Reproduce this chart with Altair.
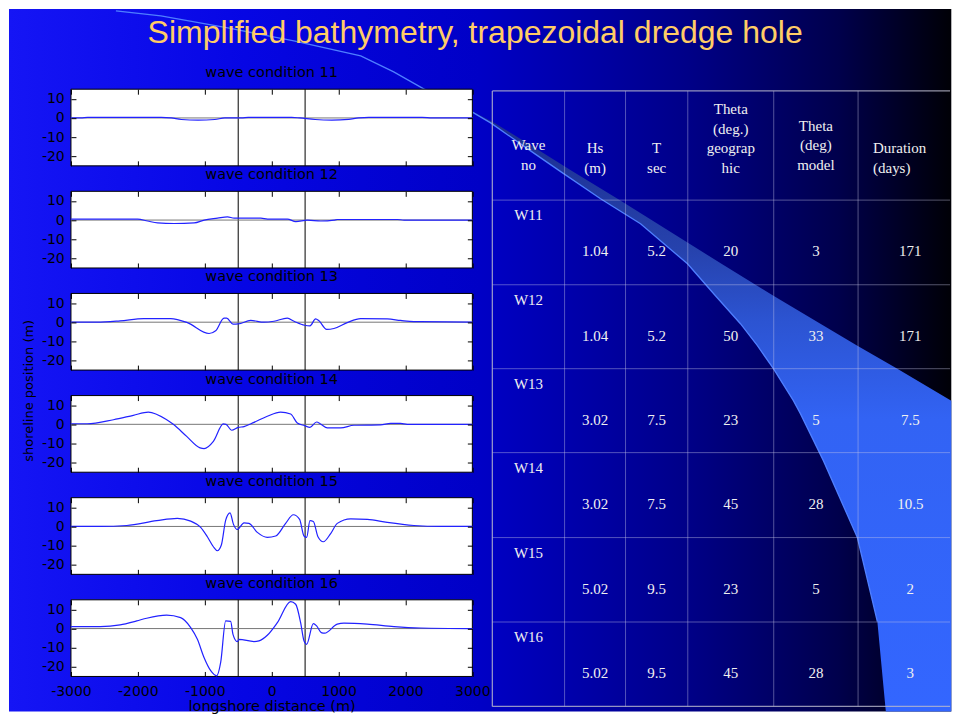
import altair as alt
import pandas as pd

# ---------------- shoreline change curves (longshore distance m -> shoreline position m) ----------------
X11 = [-3000, -2850, -2750, -1650, -1500, -1350, -1100, -850, -700, -450, -350, 300, 420, 650, 900, 1150, 1300, 1450, 2250, 2400, 3000]
Y11 = [0, 0, 0.3, 0.3, 0, -0.8, -1.1, -0.8, 0, 0, 0.3, 0.3, 0, -0.8, -1.1, -0.7, 0, 0.3, 0.3, 0, 0]

X12 = [-3000, -2004, -1855, -1705, -1456, -1158, -1008, -809, -660, -560, -162, -62, 236, 361, 535, 734, 933, 983, 1879, 1979, 3000]
Y12 = [0.5, 0.5, -0.5, -1.5, -1.8, -1.5, 0, 1, 1.7, 1, 1, 0.5, 0.5, -0.8, 0, -0.5, 0, 0.3, 0.3, 0, 0]

X13 = [-3000, -2610, -2265, -1910, -1510, -1260, -936, -837, -712, -672, -578, -500, -314, -115, 35, 234, 334, 493, 573, 657, 707, 822, 931, 1130, 1330, 1728, 1927, 2126, 2624, 3000]
Y13 = [0, 0, 0.7, 1.9, 1.9, -0.2, -5.9, -4.5, 2.1, 2.1, -1, -0.9, 0.9, 0, 0.5, 2.1, 0.5, -1.6, -1.9, 1.7, 0.7, -3.8, -3.3, -0.2, 1.9, 1.7, 0.9, 0.3, 0.2, 0]

X14 = [-3000, -2760, -2365, -2067, -1843, -1569, -1470, -1270, -1070, -1010, -871, -722, -682, -598, -500, -413, -264, -65, 134, 284, 383, 493, 573, 672, 732, 832, 1031, 1230, 1628, 1778, 1927, 2027, 3000]
Y14 = [0.3, 0.3, 2.4, 4.7, 6.4, 2.4, 0, -6.3, -12.3, -12.7, -8.9, 0.2, 0, -3.1, -1.6, -1.2, 1, 4.2, 6.4, 5.4, 0.7, -0.7, -1.6, 1.2, 0.2, -1.9, -1.9, -0.5, -0.3, 0.5, 0.5, 0, 0]

X15 = [-3000, -2560, -2166, -1718, -1410, -1210, -1061, -961, -871, -812, -752, -687, -622, -572, -513, -413, -339, -214, -65, 60, 209, 324, 418, 483, 523, 573, 623, 692, 772, 882, 981, 1181, 1430, 1728, 2126, 2525, 3000]
Y15 = [0, 0, 0.5, 3, 4.2, 2.8, -0.5, -5.4, -10.6, -12.7, -9.7, 3.3, 7.1, 1.2, -1.6, 1.9, 1.6, -3.1, -5.7, -5, 1.6, 6.1, 3.7, -5, -5.7, 3, 2.6, -5.4, -8, -3.7, 1.6, 4, 3.7, 2.1, 0.5, 0, 0]

X16 = [-3000, -2560, -2265, -2016, -1868, -1569, -1360, -1210, -1110, -1011, -911, -822, -762, -687, -613, -578, -513, -488, -264, -189, -65, 85, 284, 359, 433, 483, 523, 623, 672, 742, 792, 981, 1081, 1430, 1828, 2226, 3000]
Y16 = [1, 1, 1.9, 4, 5.4, 7, 5.7, 0.5, -5.6, -15.1, -22, -24.7, -17.7, 4, 3.8, -3, -6.8, -5.6, -6.8, -6.4, -3.5, 3.1, 14.1, 12.7, 3.1, -6.4, -8.2, 2.6, 1.4, -2.1, -2.4, 2.3, 2.8, 2.3, 1, 0.3, 0]

CURVES = [
    ("wave condition 11", X11, Y11),
    ("wave condition 12", X12, Y12),
    ("wave condition 13", X13, Y13),
    ("wave condition 14", X14, Y14),
    ("wave condition 15", X15, Y15),
    ("wave condition 16", X16, Y16),
]
HOLE_EDGES = [-500, 500]
X_TICKS = [-3000, -2000, -1000, 0, 1000, 2000, 3000]
Y_TICKS = [-20, -10, 0, 10]

# ---------------- wave condition table ----------------
TABLE_HEADERS = ["Wave\nno", "Hs\n(m)", "T\nsec", "Theta\n(deg.)\ngeograp\nhic", "Theta\n(deg)\nmodel", "Duration\n(days)"]
WAVE_NO = ["W11", "W12", "W13", "W14", "W15", "W16"]
HS = ["1.04", "1.04", "3.02", "3.02", "5.02", "5.02"]
T_SEC = ["5.2", "5.2", "7.5", "7.5", "9.5", "9.5"]
THETA_GEO = ["20", "50", "23", "45", "23", "45"]
THETA_MODEL = ["3", "33", "5", "28", "5", "28"]
DURATION = ["171", "171", "7.5", "10.5", "2", "3"]

SLIDE_TITLE = "Simplified bathymetry, trapezoidal dredge hole"

# ---------------- slide design outline (screen pixels of the slide) ----------------
SWOOSH_Y = [102, 110, 122, 150, 170, 198, 223, 263, 295, 323, 345, 368, 400, 413, 460, 537, 621, 706, 711]
SWOOSH_XL = [455, 470, 490, 530, 559, 600, 640, 687, 715, 740, 757, 773, 793, 800, 823, 857, 877, 885, 885.5]
SWOOSH_XR = [455, 471, 494, 539, 571, 617, 657, 721, 773, 820, 857, 897, 951, 951, 951, 951, 951, 951, 951]
ARC_X = [115, 160, 227, 293, 360, 393, 423, 455, 473]
ARC_Y = [10, 15, 27, 40, 55, 71, 88, 102, 112]

# ---------------- layout ----------------
PW, PH, GAP = 401.7, 76.7, 25.2
FONT = "DejaVu Sans"
SERIF = "Liberation Serif"

xs = alt.Scale(domain=[-3000, 3000], nice=False, zero=False)
ys = alt.Scale(domain=[-25, 15], nice=False, zero=False)

# slide-pixel scales for the decoration (panel 1 origin sits at slide x=70, y=88.3)
sx = alt.Scale(domain=[0, 960], range=[-70, 890], nice=False, zero=False)
sy = alt.Scale(domain=[0, 723], range=[-88.3, 634.7], nice=False, zero=False)

# table scales: column / row index -> pixel edges (relative to panel 1 origin)
COL_EDGES = [421.7, 494.0, 555.0, 617.3, 703.3, 787.7, 892.3]
ROW_EDGES = [1.7, 111.0, 195.7, 279.7, 363.7, 448.7, 533.2, 617.7]
tcx = alt.Scale(domain=list(range(7)), range=COL_EDGES, nice=False, zero=False)
tcy = alt.Scale(domain=list(range(8)), range=ROW_EDGES, nice=False, zero=False)
TABLE_RIGHT = 5.88
HEADER_FIRST_LINE = [0.497, 0.524, 0.524, 0.167, 0.32, 0.524]   # row-units of each header's first line
HEADER_X = [0.5, 1.5, 2.5, 3.5, 4.5, 5.143]


def axis(orient, labels=False, extra=None):
    kw = dict(orient=orient,
              values=X_TICKS if orient in ("top", "bottom") else Y_TICKS,
              offset=-5, tickSize=5, tickColor="black", tickWidth=1,
              domain=False, grid=False, labels=labels,
              labelFont=FONT, labelFontSize=14, labelColor="black",
              labelFlush=False, labelOverlap=False, zindex=2,
              labelExpr="'' + datum.value")
    if orient == "left":
        kw["labelPadding"] = 6.7
    if orient == "bottom":
        kw["labelPadding"] = 8
    if extra:
        kw.update(extra)
    return alt.Axis(**kw)


def panel_layer(i, xv, yv):
    last = i == len(CURVES) - 1
    xkw, ykw = {}, {}
    bextra, lextra = None, None
    if last:
        xkw["title"] = "longshore distance (m)"
        bextra = dict(titleFont=FONT, titleFontSize=14.5, titleFontWeight="normal",
                      titleColor="black", titleY=35, titleBaseline="middle")
    else:
        xkw["title"] = None
    if i == 2:
        ykw["title"] = "shoreline position (m)"
        lextra = dict(titleFont=FONT, titleFontSize=13, titleFontWeight="normal",
                      titleColor="black", titleX=-47, titleY=96.9, titleAngle=270,
                      titleAlign="center", titleBaseline="middle")
    else:
        ykw["title"] = None

    frame = alt.Chart(pd.DataFrame({"x": [-3000], "x2": [3000], "y": [-25], "y2": [15]})).mark_rect(
        fill="white", stroke="black", strokeWidth=1
    ).encode(
        x=alt.X("x:Q", scale=xs, axis=axis("bottom", labels=last, extra=bextra), **xkw),
        x2="x2:Q",
        y=alt.Y("y:Q", scale=ys, axis=axis("left", labels=True, extra=lextra), **ykw),
        y2="y2:Q",
    )
    edges = alt.Chart(pd.DataFrame({"x": HOLE_EDGES, "y": [-25, -25], "y2": [15, 15]})).mark_rule(
        color="black", strokeWidth=1
    ).encode(
        x=alt.X("x:Q", scale=xs, axis=None),
        y=alt.Y("y:Q", scale=ys, axis=None),
        y2="y2:Q",
    )
    zero = alt.Chart(pd.DataFrame({"x": [-3000], "x2": [3000], "y": [0]})).mark_rule(
        color="#767676", strokeWidth=1
    ).encode(
        x=alt.X("x:Q", scale=xs, axis=axis("top"), title=None),
        x2="x2:Q",
        y=alt.Y("y:Q", scale=ys, axis=axis("right"), title=None),
    )
    curve = alt.Chart(pd.DataFrame({"x": xv, "y": yv})).mark_line(
        color="#2222ff", strokeWidth=1.2, interpolate="monotone"
    ).encode(
        x=alt.X("x:Q", scale=xs, axis=None),
        y=alt.Y("y:Q", scale=ys, axis=None),
    )
    return alt.layer(frame, edges, zero, curve).resolve_axis(x="independent", y="independent")


def title_params(text):
    return alt.TitleParams(text=text, font=FONT, fontSize=14.5, fontWeight="normal",
                           color="black", offset=8, anchor="middle", frame="group")


# ---------------- decoration (background gradient, swoosh, arc, slide title) ----------------
BG_GRADIENT = alt.LinearGradient(
    gradient="linear", x1=0, y1=0, x2=1, y2=0,
    stops=[alt.GradientStop(offset=0.0, color="#1515f5"),
           alt.GradientStop(offset=0.25, color="#0606e4"),
           alt.GradientStop(offset=0.5, color="#0000c6"),
           alt.GradientStop(offset=0.72, color="#000088"),
           alt.GradientStop(offset=0.88, color="#00004c"),
           alt.GradientStop(offset=1.0, color="#000006")])
SW_GRADIENT = alt.LinearGradient(
    gradient="linear", x1=0, y1=0, x2=0, y2=1,
    stops=[alt.GradientStop(offset=0.0, color="#1a2b8c"),
           alt.GradientStop(offset=0.24, color="#2642ad"),
           alt.GradientStop(offset=0.36, color="#2c54d2"),
           alt.GradientStop(offset=0.52, color="#3263f4"),
           alt.GradientStop(offset=1.0, color="#3366ff")])

bg = alt.Chart(pd.DataFrame({"x": [8], "x2": [951], "y": [8], "y2": [711]})).mark_rect(
    fill=BG_GRADIENT
).encode(
    x=alt.X("x:Q", scale=sx, axis=None), x2="x2:Q",
    y=alt.Y("y:Q", scale=sy, axis=None), y2="y2:Q",
)
swoosh = alt.Chart(pd.DataFrame({"y": SWOOSH_Y, "xl": SWOOSH_XL, "xr": SWOOSH_XR})).mark_area(
    orient="horizontal", fill=SW_GRADIENT
).encode(
    y=alt.Y("y:Q", scale=sy, axis=None),
    x=alt.X("xl:Q", scale=sx, axis=None), x2="xr:Q",
)
arc_x = ARC_X + [x for x, y in zip(SWOOSH_XL, SWOOSH_Y) if y > ARC_Y[-1] and y < 705]
arc_y = ARC_Y + [y for y in SWOOSH_Y if y > ARC_Y[-1] and y < 705]
arc = alt.Chart(pd.DataFrame({"x": arc_x, "y": arc_y, "o": list(range(len(arc_x)))})).mark_line(
    color="#4f7fff", strokeWidth=1.3
).encode(
    x=alt.X("x:Q", scale=sx, axis=None),
    y=alt.Y("y:Q", scale=sy, axis=None),
    order="o:Q",
)
slide_title = alt.Chart(pd.DataFrame({"x": [474.5], "y": [41.7], "t": [SLIDE_TITLE]})).mark_text(
    font="Liberation Sans", fontSize=32, color="#ffcc66", align="center", baseline="alphabetic"
).encode(
    x=alt.X("x:Q", scale=sx, axis=None),
    y=alt.Y("y:Q", scale=sy, axis=None),
    text="t:N",
)
# title of the first panel (drawn here because the panel group also holds the slide background)
first_title = alt.Chart(pd.DataFrame({"x": [270.85], "y": [76.0], "t": [CURVES[0][0]]})).mark_text(
    font=FONT, fontSize=14.5, color="black", align="center", baseline="alphabetic"
).encode(
    x=alt.X("x:Q", scale=sx, axis=None),
    y=alt.Y("y:Q", scale=sy, axis=None),
    text="t:N",
)
deco = alt.layer(bg, swoosh, arc, slide_title, first_title)

# ---------------- table ----------------
inner_h = alt.Chart(pd.DataFrame({"r": list(range(1, 7)), "c0": [0] * 6, "c1": [TABLE_RIGHT] * 6})).mark_rule(
    color="#c8c8e6", strokeOpacity=0.42, strokeWidth=1
).encode(
    y=alt.Y("r:Q", scale=tcy, axis=None),
    x=alt.X("c0:Q", scale=tcx, axis=None), x2="c1:Q",
)
inner_v = alt.Chart(pd.DataFrame({"c": list(range(1, 6)), "r0": [0] * 5, "r1": [7] * 5})).mark_rule(
    color="#c8c8e6", strokeOpacity=0.42, strokeWidth=1
).encode(
    x=alt.X("c:Q", scale=tcx, axis=None),
    y=alt.Y("r0:Q", scale=tcy, axis=None), y2="r1:Q",
)
outer_h = alt.Chart(pd.DataFrame({"r": [0, 7], "c0": [0, 0], "c1": [TABLE_RIGHT, TABLE_RIGHT]})).mark_rule(
    color="#b8b8cc", strokeOpacity=0.8, strokeWidth=1.3
).encode(
    y=alt.Y("r:Q", scale=tcy, axis=None),
    x=alt.X("c0:Q", scale=tcx, axis=None), x2="c1:Q",
)
outer_v = alt.Chart(pd.DataFrame({"c": [0], "r0": [0], "r1": [7]})).mark_rule(
    color="#b8b8cc", strokeOpacity=0.8, strokeWidth=1.3
).encode(
    x=alt.X("c:Q", scale=tcx, axis=None),
    y=alt.Y("r0:Q", scale=tcy, axis=None), y2="r1:Q",
)

head_df = pd.DataFrame({"c": HEADER_X, "r": HEADER_FIRST_LINE, "t": TABLE_HEADERS})
head_c = alt.Chart(head_df.iloc[:5]).mark_text(
    font=SERIF, fontSize=15, color="#f0f0f0", align="center", baseline="middle", lineBreak="\n", lineHeight=19.5
).encode(
    x=alt.X("c:Q", scale=tcx, axis=None), y=alt.Y("r:Q", scale=tcy, axis=None), text="t:N",
)
head_l = alt.Chart(head_df.iloc[5:]).mark_text(
    font=SERIF, fontSize=15, color="#f0f0f0", align="left", baseline="middle", lineBreak="\n", lineHeight=19.5
).encode(
    x=alt.X("c:Q", scale=tcx, axis=None), y=alt.Y("r:Q", scale=tcy, axis=None), text="t:N",
)

cells = []
for r in range(6):
    cells.append({"c": 0.5, "r": r + 1 + 0.177, "t": WAVE_NO[r]})
    for c, col in enumerate([HS, T_SEC, THETA_GEO, THETA_MODEL, DURATION], start=1):
        cells.append({"c": c + 0.5, "r": r + 1 + 0.607, "t": col[r]})
cell_text = alt.Chart(pd.DataFrame(cells)).mark_text(
    font=SERIF, fontSize=15, color="#f0f0f0", align="center", baseline="middle"
).encode(
    x=alt.X("c:Q", scale=tcx, axis=None), y=alt.Y("r:Q", scale=tcy, axis=None), text="t:N",
)
table = alt.layer(inner_h, inner_v, outer_h, outer_v, head_c, head_l, cell_text)

# ---------------- assemble ----------------
panels = []
for i, (name, xv, yv) in enumerate(CURVES):
    layer = panel_layer(i, xv, yv)
    if i == 0:
        layer = alt.layer(deco, table, layer).resolve_scale(x="independent", y="independent")
        panels.append(layer.properties(width=PW, height=PH))
    else:
        panels.append(layer.properties(width=PW, height=PH, title=title_params(name)))

chart = alt.vconcat(*panels, spacing=GAP, bounds="flush").properties(padding=0).configure_view(strokeWidth=0)

chart.save("out.html", embed_options={"renderer": "svg", "actions": False})
